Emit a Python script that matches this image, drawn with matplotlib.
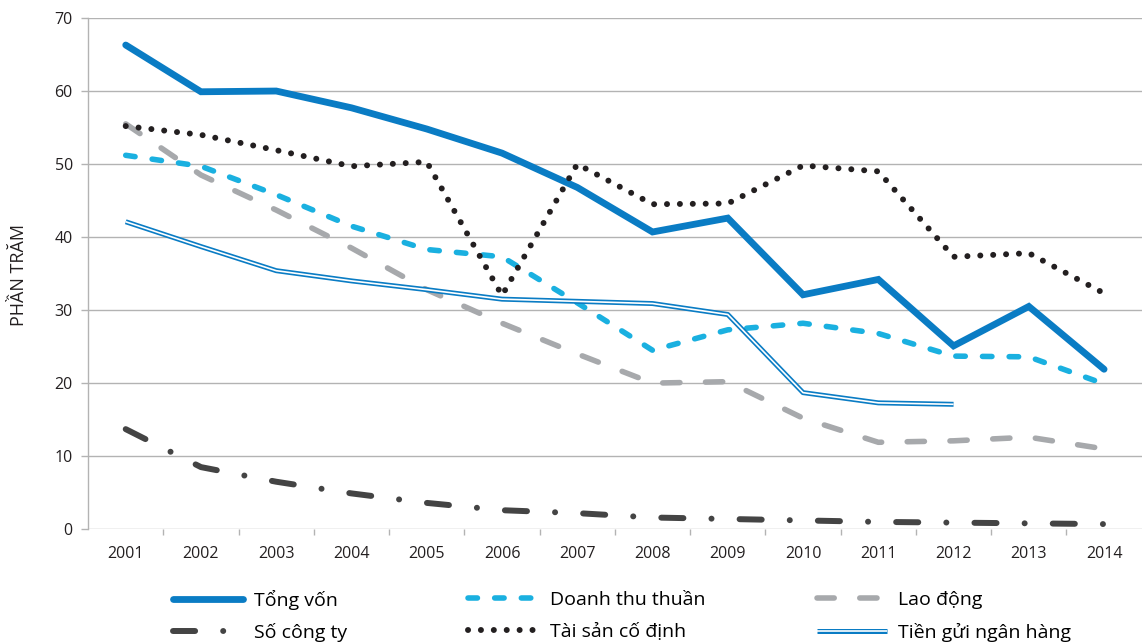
import numpy as np
import matplotlib.pyplot as plt
from matplotlib.legend_handler import HandlerTuple

plt.rcParams['font.family'] = ['Open Sans', 'DejaVu Sans']

years = ["2001", "2002", "2003", "2004", "2005", "2006", "2007",
         "2008", "2009", "2010", "2011", "2012", "2013", "2014"]

tong_von = [66.3, 59.9, 60.0, 57.7, 54.8, 51.5, 46.8, 40.7, 42.6, 32.1, 34.2, 25.1, 30.5, 21.9]
doanh_thu = [51.2, 49.7, 45.8, 41.5, 38.3, 37.3, 31.0, 24.5, 27.3, 28.2, 26.8, 23.7, 23.6, 19.9]
lao_dong = [55.5, 48.5, 43.7, 38.5, 32.8, 28.2, 24.0, 20.0, 20.2, 15.2, 11.9, 12.1, 12.6, 11.0]
so_cong_ty = [13.7, 8.5, 6.5, 4.9, 3.6, 2.6, 2.2, 1.6, 1.4, 1.2, 1.0, 0.9, 0.8, 0.7]
tai_san = [55.2, 54.0, 51.9, 49.7, 50.3, 32.0, 50.0, 44.5, 44.6, 49.8, 49.0, 37.3, 37.8, 32.3]
tien_gui = [42.1, 38.7, 35.4, 34.0, 32.8, 31.5, 31.2, 30.9, 29.4, 18.7, 17.3, 17.1]

x = np.arange(len(years))

fig = plt.figure(figsize=(11.44, 6.43), dpi=100)
ax = fig.add_axes([0.077, 0.177, 0.921, 0.795])

c_blue = '#0a7cc4'
c_light = '#1ab0e0'
c_gray = '#a7a9ac'
c_dark = '#444444'
c_black = '#231f20'
c_grid = '#b3b3b3'

l1, = ax.plot(x, tong_von, color=c_blue, lw=4.9, solid_capstyle='round',
              solid_joinstyle='miter', zorder=5)
l2, = ax.plot(x, doanh_thu, color=c_light, lw=4.0, dash_capstyle='round',
              linestyle=(0, (1.7, 3.1)), zorder=4)
l3, = ax.plot(x, lao_dong, color=c_gray, lw=4.0, dash_capstyle='round',
              linestyle=(0, (3.1, 4.6)), zorder=3)
l4, = ax.plot(x, so_cong_ty, color=c_dark, lw=4.3, dash_capstyle='round',
              linestyle=(0, (3.7, 4.7, 0.01, 4.7)), zorder=3)
l5, = ax.plot(x, tai_san, color=c_black, lw=4.3, dash_capstyle='round',
              linestyle=(0, (0.01, 2.15)), zorder=6)
# double line: blue stroke with a white core
xg = x[:len(tien_gui)]
l6a, = ax.plot(xg, tien_gui, color=c_blue, lw=3.6, solid_capstyle='butt',
               zorder=4)
l6b, = ax.plot(xg, tien_gui, color='white', lw=1.2, solid_capstyle='butt',
               zorder=4)

ax.set_xlim(-0.5, len(years) - 0.5)
ax.set_ylim(0, 70)
ax.set_yticks(range(0, 71, 10))
ax.set_xticks(x)
ax.set_xticklabels(years)
ax.set_xticks(np.arange(0.5, len(years) - 1, 1), minor=True)

ax.grid(axis='y', color=c_grid, lw=1.0)
ax.set_axisbelow(True)
for s in ['top', 'right', 'bottom']:
    ax.spines[s].set_visible(False)
ax.spines['left'].set_color(c_grid)
ax.spines['left'].set_linewidth(1.0)

ax.tick_params(axis='y', length=5, color=c_grid, width=1.0, labelsize=11.5,
               labelcolor=c_black, pad=6)
ax.tick_params(axis='x', which='major', length=0, labelsize=11.5,
               labelcolor=c_black, pad=12)
ax.tick_params(axis='x', which='minor', direction='out', length=4.5,
               color=c_grid, width=1.0)

ax.set_ylabel('PHẦN TRĂM', fontsize=13, color=c_black)
ax.yaxis.set_label_coords(-0.057, 0.497)

# one legend per entry so every row lines up
entries = [
    (l1, 'Tổng vốn', 0.151, 0.067),
    (l4, 'Số công ty', 0.151, 0.017),
    (l2, 'Doanh thu thuần', 0.409, 0.067),
    (l5, 'Tài sản cố định', 0.409, 0.017),
    (l3, 'Lao động', 0.714, 0.067),
    ((l6a, l6b), 'Tiền gửi ngân hàng', 0.714, 0.017),
]
for h, lab, xpos, ypos in entries:
    fig.legend([h], [lab], loc='center left', bbox_to_anchor=(xpos, ypos),
               frameon=False, fontsize=14, handlelength=3.6,
               handletextpad=0.6, borderpad=0, borderaxespad=0,
               handler_map={tuple: HandlerTuple(ndivide=1, pad=0)})

fig.savefig('out.png', dpi=100)
